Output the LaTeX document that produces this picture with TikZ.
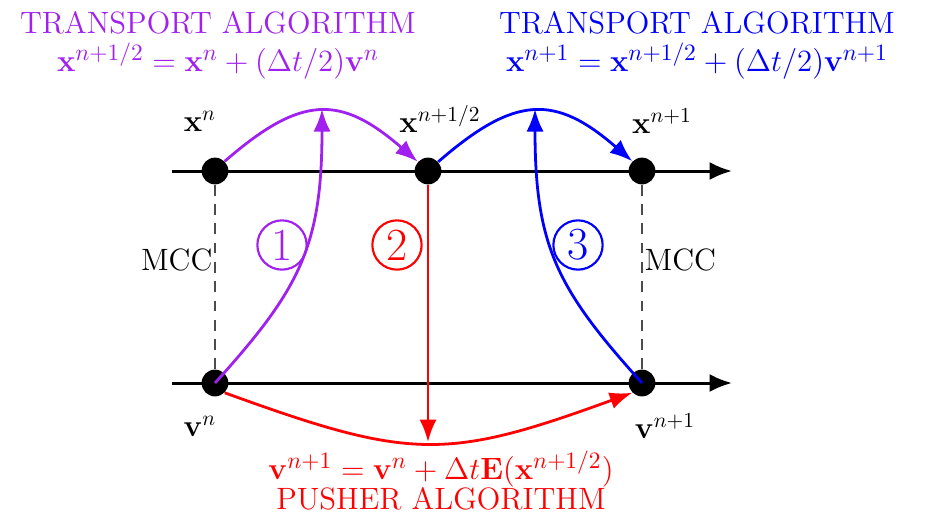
\documentclass[tikz,border=0pt]{standalone}
\usepackage{amsmath}
\usetikzlibrary{arrows.meta,positioning}
\definecolor{TrPurple}{RGB}{160,32,240}

\begin{document}
\begin{tikzpicture}[
        x=0.0164cm, y=0.0164cm,
        every node/.style={font=\Large},
        eqn/.style={font=\fontsize{15.3}{18}\selectfont},
        dot/.style={circle, fill=black, minimum size=12.5pt, inner sep=0pt},
        axis/.style={line width=1.4pt, -{Latex[length=10.5pt,width=8.5pt]}},
        arrow/.style={line width=1.3pt, -{Latex[length=10.5pt,width=8pt]}},
        mcc/.style={black!70, line width=0.5pt, dash pattern=on 5pt off 4pt},
        stage/.style={circle, draw, line width=1pt, minimum size=23pt, inner sep=0pt, font=\fontsize{21.5}{24}\selectfont}
    ]
    \useasboundingbox (0,0) rectangle (928,519);

    % Axis ends
    \coordinate (xstart) at (172,348);
    \coordinate (xend) at (732,348);
    \coordinate (vstart) at (172,136);
    \coordinate (vend) at (732,136);
    \draw[axis] (xstart) -- (xend);
    \draw[axis] (vstart) -- (vend);

    % Position and velocity points
    \node[dot] (xn) at (215,348) {};
    \node[dot] (xh) at (428,348) {};
    \node[dot] (xn1) at (642,348) {};
    \node[dot] (vn) at (215,136) {};
    \node[dot] (vn1) at (642,136) {};

    % Point labels
    \node (lxn) at (200,398) {$\mathbf{x}^{n}$};
    \node (lxh) at (440,400) {$\mathbf{x}^{n+1/2}$};
    \node (lxn1) at (662,398) {$\mathbf{x}^{n+1}$};
    \node (lvn) at (200,93) {$\mathbf{v}^{n}$};
    \node (lvn1) at (665,93) {$\mathbf{v}^{n+1}$};

    % MCC links
    \draw[mcc] (xn) -- node[pos=0.41, left, inner sep=1pt, text=black] (mccl) {MCC} (vn);
    \draw[mcc] (xn1) -- node[pos=0.41, right, inner sep=1pt, text=black] (mccr) {MCC} (vn1);

    % Turning points of the curves
    \coordinate (top1) at (322,410);
    \coordinate (top3) at (535,410);
    \coordinate (bot2) at (428,77);

    % Step 1: first half transport
    \draw[arrow, TrPurple] (xn.45) .. controls +(41:102) and +(139:102) .. (xh.138);
    \draw[arrow, TrPurple] (vn.center) .. controls +(85,94) and +(0,-137) .. (top1);

    % Step 2: pusher
    \draw[arrow, red] (xh.south) -- (bot2);
    \draw[arrow, red] (vn.-45) .. controls +(-20:198) and +(200:198) .. (vn1.225);

    % Step 3: second half transport
    \draw[arrow, blue] (xh.42) .. controls +(41:102) and +(139:102) .. (xn1.135);
    \draw[arrow, blue] (vn1.center) .. controls +(-85,94) and +(0,-137) .. (top3);

    % Step numbers
    \node[stage, TrPurple] (s1) at (282,274) {1};
    \node[stage, red] (s2) at (397,274) {2};
    \node[stage, blue] (s3) at (578,274) {3};

    % Algorithm labels
    \node[eqn, TrPurple] (eq1) at (218,458) {$\mathbf{x}^{n+1/2} = \mathbf{x}^{n} + (\Delta t/2)\mathbf{v}^{n}$};
    \node[TrPurple, above=-3pt of eq1] (tr1) {TRANSPORT ALGORITHM};
    \node[eqn, blue] (eq3) at (697,458) {$\mathbf{x}^{n+1} = \mathbf{x}^{n+1/2} + (\Delta t/2)\mathbf{v}^{n+1}$};
    \node[blue, above=-3pt of eq3] (tr3) {TRANSPORT ALGORITHM};
    \node[eqn, red] (eq2) at (441,50) {$\mathbf{v}^{n+1} = \mathbf{v}^{n} + \Delta t\mathbf{E}(\mathbf{x}^{n+1/2})$};
    \node[red, below=-7pt of eq2] (push) {PUSHER ALGORITHM};

\end{tikzpicture}
\end{document}
